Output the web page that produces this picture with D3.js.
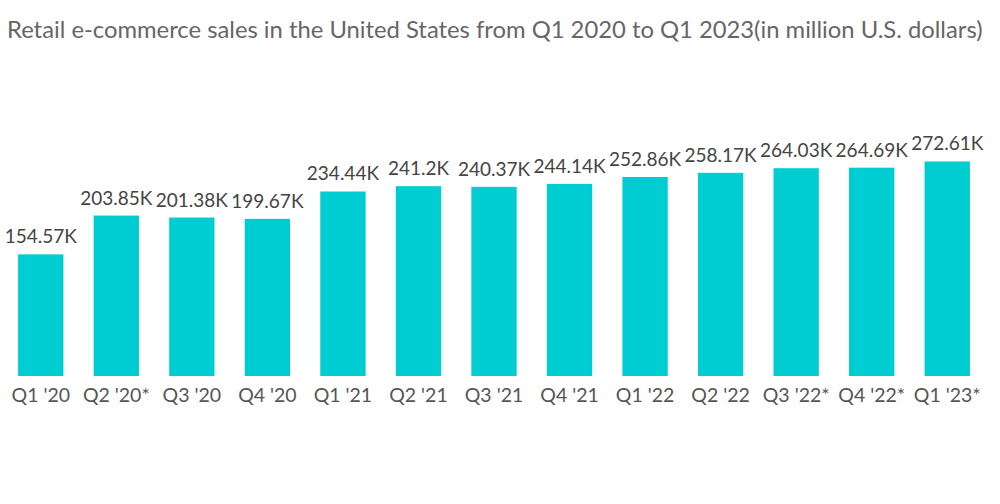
<!DOCTYPE html>
<html>
<head>
<meta charset="utf-8">
<script src="https://cdn.jsdelivr.net/npm/d3@7"></script>
<style>
  body { margin: 0; background: #fff; }
  text { font-family: Lato, "Open Sans", sans-serif; }
</style>
</head>
<body>
<div id="chart"></div>
<script>
// Data
const quarters = ["Q1 '20", "Q2 '20*", "Q3 '20", "Q4 '20", "Q1 '21", "Q2 '21", "Q3 '21",
  "Q4 '21", "Q1 '22", "Q2 '22", "Q3 '22*", "Q4 '22*", "Q1 '23*"];
const sales = [154.57, 203.85, 201.38, 199.67, 234.44, 241.2, 240.37,
  244.14, 252.86, 258.17, 264.03, 264.69, 272.61];
const valueLabels = ["154.57K", "203.85K", "201.38K", "199.67K", "234.44K", "241.2K", "240.37K",
  "244.14K", "252.86K", "258.17K", "264.03K", "264.69K", "272.61K"];

const width = 1000;
const height = 504;
const baseY = 376;

const svg = d3.select("#chart").append("svg")
  .attr("width", width)
  .attr("height", height);

svg.append("text")
  .attr("x", 7)
  .attr("y", 38)
  .attr("fill", "#666")
  .attr("font-size", 23.8)
  .text("Retail e-commerce sales in the United States from Q1 2020 to Q1 2023(in million U.S. dollars)");

const x = d3.scaleBand()
  .domain(quarters)
  .range([3, 985])
  .paddingInner(0.4)
  .paddingOuter(0.2);

const y = d3.scaleLinear()
  .domain([0, 300])
  .range([baseY, baseY - 0.787 * 300]);

svg.selectAll("rect")
  .data(sales)
  .enter()
  .append("rect")
  .attr("x", (d, i) => x(quarters[i]))
  .attr("y", (d) => y(d))
  .attr("width", x.bandwidth())
  .attr("height", (d) => y(0) - y(d))
  .attr("fill", "#00cdd1");

svg.selectAll(".val")
  .data(sales)
  .enter()
  .append("text")
  .attr("class", "val")
  .attr("x", (d, i) => x(quarters[i]) + x.bandwidth() / 2)
  .attr("y", (d) => y(d) - 11)
  .attr("text-anchor", "middle")
  .attr("font-size", 19)
  .attr("fill", "#444")
  .text((d, i) => valueLabels[i]);

// X Axis
const xAxis = svg.append("g")
  .attr("transform", `translate(0, ${baseY})`)
  .call(d3.axisBottom(x).tickSize(0).tickPadding(12));
xAxis.select(".domain").remove();
xAxis.selectAll("text")
  .attr("font-size", 19.5)
  .attr("fill", "#555")
  .style("font-family", "Lato, sans-serif");
</script>
</body>
</html>
